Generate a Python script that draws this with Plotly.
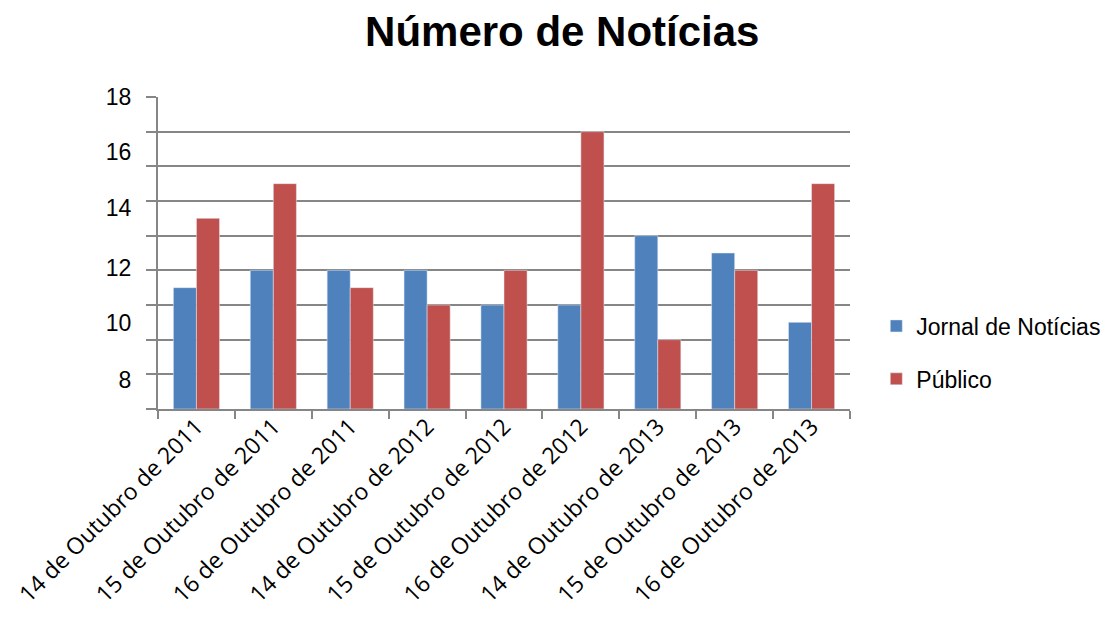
import plotly.graph_objects as go

# Dados do gráfico
datas = ['14 de Outubro de 2011', '15 de Outubro de 2011', '16 de Outubro de 2011',
         '14 de Outubro de 2012', '15 de Outubro de 2012', '16 de Outubro de 2012',
         '14 de Outubro de 2013', '15 de Outubro de 2013', '16 de Outubro de 2013']
jornal_noticias = [7, 8, 8, 8, 6, 6, 10, 9, 5]
publico = [11, 13, 7, 6, 8, 16, 4, 8, 13]

# Rótulos do eixo Y (tal como aparecem no original, desalinhados da grelha)
rotulos_y = ['18', '16', '14', '12', '10', '8']
posicoes_rotulos_y = [17.99, 14.83, 11.6, 8.14, 4.96, 1.67]

cinza = '#868686'

fig = go.Figure()
fig.add_trace(go.Bar(x=datas, y=jornal_noticias, name='Jornal de Notícias',
                     marker_color='#4F81BD', legendgroup='jn'))
fig.add_trace(go.Bar(x=datas, y=publico, name='Público',
                     marker_color='#C0504D', legendgroup='pub'))

fig.update_layout(
    width=1113, height=621,
    paper_bgcolor='white', plot_bgcolor='white',
    margin=dict(l=150, r=271, t=89, b=220, autoexpand=False),
    barmode='group', bargap=0.4, bargroupgap=0,
    font=dict(family='Liberation Sans, Arial, sans-serif', color='black'),
    title=dict(text='<b>Número de Notícias</b>', x=0.498, xref='container', xanchor='center',
               y=0.962, yref='container', yanchor='middle',
               font=dict(size=42, family='Liberation Sans, Arial, sans-serif', color='black')),
    legend=dict(x=1.038, y=0.335, xanchor='left', yanchor='top',
                font=dict(size=23, color='black'), tracegroupgap=20,
                itemwidth=30, bgcolor='rgba(0,0,0,0)'),
)

fig.update_xaxes(type='category', tickson='boundaries', ticks='outside', ticklen=8,
                 tickwidth=2, tickcolor=cinza, showline=True, linecolor=cinza, linewidth=2,
                 tickangle=-45, showgrid=False, automargin=False, ticklabelstandoff=-7,
                 tickfont=dict(family='Open Sans, sans-serif', size=23, color='black'))

fig.update_yaxes(range=[0, 18], tickmode='array', tickvals=posicoes_rotulos_y, ticktext=rotulos_y,
                 ticks='', showgrid=False, zeroline=False, automargin=False,
                 showline=True, linecolor=cinza, linewidth=2, ticklabelstandoff=20,
                 tickfont=dict(size=23, color='black'),
                 minor=dict(tick0=0, dtick=2, showgrid=True, gridcolor=cinza, gridwidth=2,
                            ticks='outside', ticklen=10, tickwidth=2, tickcolor=cinza))

fig.write_html('out.html')
